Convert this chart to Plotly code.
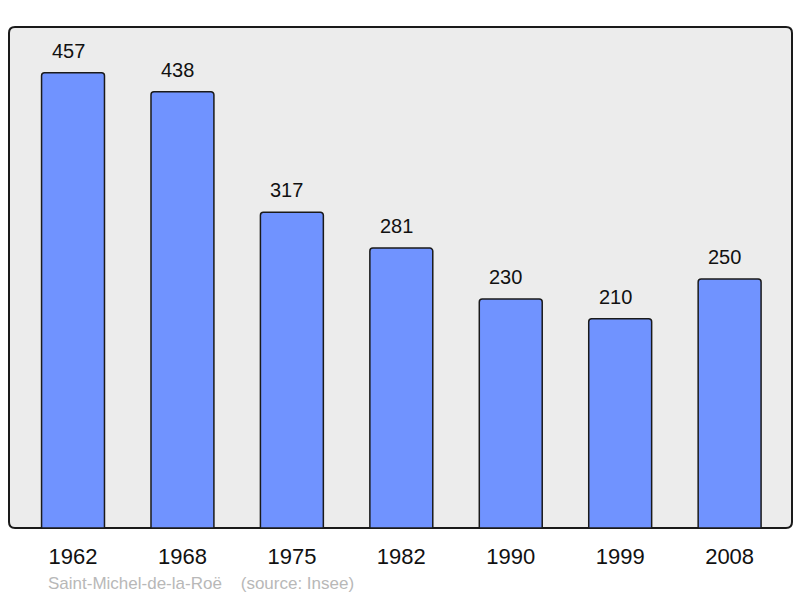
import plotly.graph_objects as go

years = ["1962", "1968", "1975", "1982", "1990", "1999", "2008"]
population = [457, 438, 317, 281, 230, 210, 250]
footer = "Saint-Michel-de-la-Roë    (source: Insee)"

W, H = 800, 598
ml, mr, mt, mb = 9, 8, 27, 70
pw, ph = W - ml - mr, H - mt - mb

fig = go.Figure()
fig.add_trace(go.Bar(
    x=list(range(len(years))), y=population,
    width=0.575,
    marker=dict(color="#7093ff", line=dict(color="#1a1a1a", width=1.5), cornerradius=3),
    hoverinfo="skip",
))

for i, v in enumerate(population):
    fig.add_annotation(x=i, y=v, text=str(v), showarrow=False, yanchor="bottom",
                       yshift=9, xshift=-5,
                       font=dict(size=20, color="#111", family="Liberation Sans, Arial"))

# rounded plot frame
r = 6
rx, ry = r / pw, r / ph
path = (f"M {rx},0 L {1-rx},0 Q 1,0 1,{ry} L 1,{1-ry} Q 1,1 {1-rx},1 "
        f"L {rx},1 Q 0,1 0,{1-ry} L 0,{ry} Q 0,0 {rx},0 Z")
fig.add_shape(type="path", xref="paper", yref="paper", path=path,
              line=dict(color="#1a1a1a", width=2), fillcolor="#ececec", layer="below")

fig.add_annotation(xref="paper", yref="paper", x=(46 - ml) / pw, y=-(583 - 528) / ph,
                   xanchor="left", yanchor="middle", text=footer, showarrow=False,
                   font=dict(size=17, color="#b8b8b8", family="Liberation Sans, Arial"))

fig.update_layout(
    width=W, height=H,
    margin=dict(l=ml, r=mr, t=mt, b=mb, pad=0),
    paper_bgcolor="white", plot_bgcolor="rgba(0,0,0,0)",
    showlegend=False,
    font=dict(family="Liberation Sans, Arial", color="#111"),
    xaxis=dict(range=[-0.585, 6.57], tickmode="array", tickvals=list(range(len(years))),
               ticktext=years, tickfont=dict(size=22, color="#111"), showgrid=False,
               zeroline=False, ticks="outside", ticklen=9, tickcolor="rgba(0,0,0,0)",
               showline=False, fixedrange=True),
    yaxis=dict(range=[0, 503], showgrid=False, zeroline=False, showticklabels=False,
               showline=False, fixedrange=True),
)

fig.write_html("out.html", config={"displayModeBar": False},
               post_script="document.body.style.margin='0';document.body.style.overflow='hidden';")
